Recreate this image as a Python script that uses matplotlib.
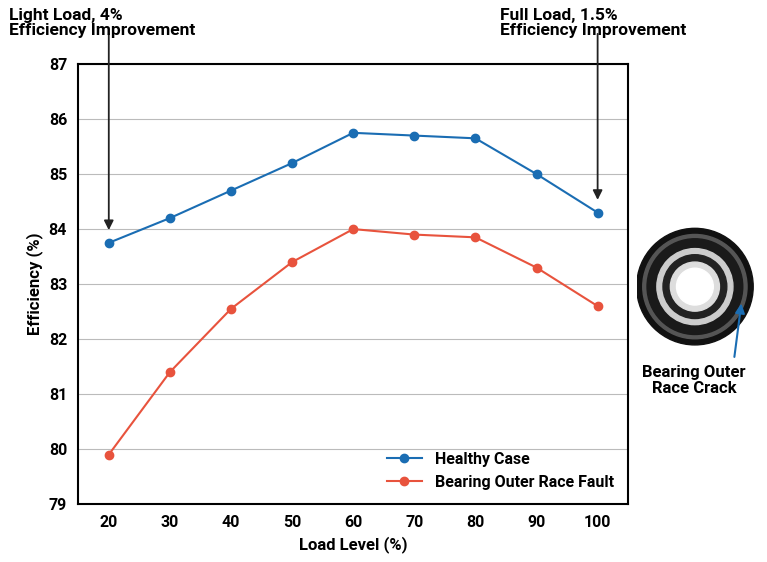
import matplotlib
matplotlib.use("Agg")
import matplotlib.pyplot as plt
from matplotlib.patches import Circle

load = [20, 30, 40, 50, 60, 70, 80, 90, 100]
healthy = [83.75, 84.2, 84.7, 85.2, 85.75, 85.7, 85.65, 85.0, 84.3]
fault = [79.9, 81.4, 82.55, 83.4, 84.0, 83.9, 83.85, 83.3, 82.6]
yticks = [79, 80, 81, 82, 83, 84, 85, 86, 87]

plt.rcParams['font.family'] = 'Roboto'
fig = plt.figure(figsize=(7.67, 5.62), dpi=100)
ax = fig.add_axes([0.102, 0.103, 0.717, 0.783])
blue = '#1a6db3'
red = '#e8533d'
ax.plot(load, healthy, '-o', color=blue, lw=1.5, ms=6, label='Healthy Case')
ax.plot(load, fault, '-o', color=red, lw=1.5, ms=6, label='Bearing Outer Race Fault')
ax.set_xlim(15, 105)
ax.set_ylim(79, 87)
ax.set_xticks(load)
ax.set_yticks(yticks)
ax.yaxis.grid(True, color='#bbbbbb', lw=0.8)
ax.set_axisbelow(True)
for s in ax.spines.values():
    s.set_linewidth(1.5)
ax.tick_params(length=0, labelsize=11.5, pad=8)
for t in ax.get_xticklabels() + ax.get_yticklabels():
    t.set_fontweight('bold')
ax.set_xlabel('Load Level (%)', fontsize=12, fontweight='bold')
ax.set_ylabel('Efficiency (%)', fontsize=12, fontweight='bold')
leg = ax.legend(loc='lower right', frameon=False, prop={'weight': 'bold', 'size': 11.5},
                bbox_to_anchor=(1.0, 0.0), handlelength=2.2)

fig.text(0.012, 0.985, 'Light Load, 4%\nEfficiency Improvement', fontsize=12.5,
         fontweight='bold', va='top', ha='left', linespacing=1.0)
fig.text(0.652, 0.985, 'Full Load, 1.5%\nEfficiency Improvement', fontsize=12.5,
         fontweight='bold', va='top', ha='left', linespacing=1.0)
ax.annotate('', xy=(20, 83.75 + 0.18), xytext=(20, 87.6), annotation_clip=False,
            arrowprops=dict(arrowstyle='-|>', color='#222222', lw=1.3, mutation_scale=14))
ax.annotate('', xy=(100, 84.3 + 0.18), xytext=(100, 87.6), annotation_clip=False,
            arrowprops=dict(arrowstyle='-|>', color='#222222', lw=1.3, mutation_scale=14))

# bearing illustration
bx = fig.add_axes([0.83, 0.38, 0.16, 0.22])
bx.set_xlim(-1, 1); bx.set_ylim(-1, 1); bx.set_aspect('equal'); bx.axis('off')
for r, c in [(0.95, '#111111'), (0.85, '#555555'), (0.78, '#1a1a1a'), (0.62, '#cccccc'),
             (0.52, '#222222'), (0.40, '#dddddd'), (0.30, '#ffffff')]:
    bx.add_patch(Circle((-0.05, 0), r, color=c))
fig.text(0.905, 0.35, 'Bearing Outer\nRace Crack', fontsize=12, fontweight='bold',
         ha='center', va='top', linespacing=1.05)
fig.add_artist(matplotlib.patches.FancyArrowPatch((0.957, 0.36), (0.967, 0.465),
               transform=fig.transFigure, arrowstyle='-|>', color=blue, lw=1.5,
               mutation_scale=14))
fig.savefig('out.png', dpi=100)
